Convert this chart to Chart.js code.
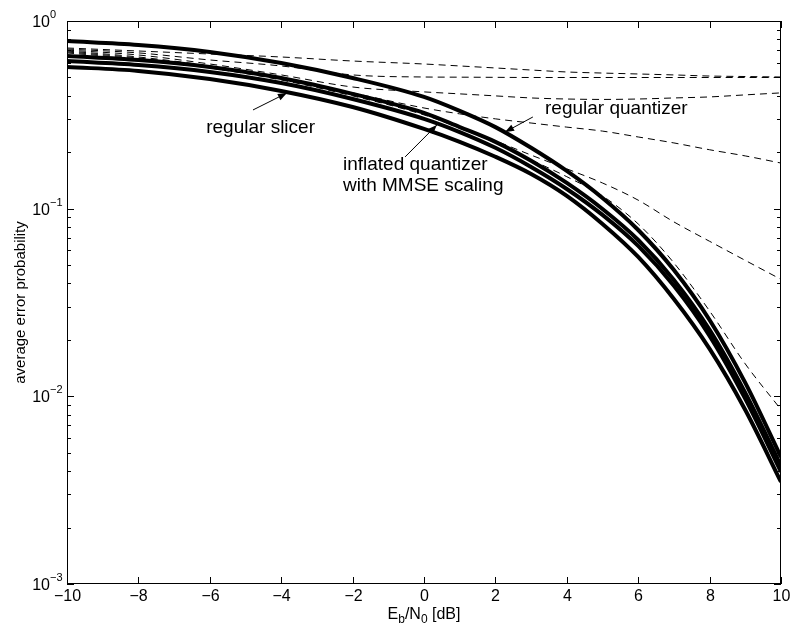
<!DOCTYPE html>
<html>
<head>
<meta charset="utf-8">
<script src="https://cdn.jsdelivr.net/npm/chart.js@4.4.1/dist/chart.umd.min.js"></script>
<style>
body{margin:0;background:#fff;}
canvas{display:block;}
</style>
</head>
<body>
<canvas id="myCanvas" width="794" height="631"></canvas>
<script>
// Eb/N0 in dB
var snrDb=[-10,-8,-6,-4,-2,0,1,2,3,4,5,6,7,8,9,10];

// thick solid curves
var regularQuantizer=[0.782,0.745,0.684,0.597,0.497,0.394,0.332,0.272,0.211,0.1588,0.1140,0.0770,0.0471,0.0255,0.01179,0.00475];
var inflatedQuantizer=[0.651,0.620,0.569,0.497,0.409,0.324,0.272,0.227,0.180,0.1371,0.0996,0.0681,0.0417,0.0226,0.01042,0.00426];
var inflatedMmse=[0.612,0.583,0.535,0.467,0.384,0.301,0.256,0.211,0.1668,0.1273,0.0926,0.0633,0.0388,0.0210,0.00969,0.00396];
var regularSlicer=[0.569,0.542,0.491,0.424,0.348,0.266,0.227,0.189,0.153,0.117,0.0829,0.0553,0.0330,0.0179,0.00846,0.0035];

// thin dashed curves
var dashA=[0.718,0.692,0.667,0.643,0.612,0.590,0.576,0.562,0.548,0.535,0.528,0.522,0.516,0.509,0.506,0.503];
var dashB=[0.709,0.676,0.620,0.576,0.516,0.503,0.502,0.501,0.500,0.500,0.500,0.500,0.500,0.500,0.500,0.500];
var dashC=[0.700,0.659,0.590,0.516,0.445,0.419,0.409,0.399,0.389,0.384,0.382,0.384,0.389,0.394,0.404,0.414];
var dashD=[0.692,0.643,0.576,0.497,0.414,0.344,0.320,0.301,0.286,0.272,0.259,0.241,0.224,0.206,0.191,0.175];
var dashE=[0.684,0.635,0.569,0.491,0.404,0.320,0.272,0.230,0.193,0.163,0.137,0.111,0.085,0.067,0.053,0.042];
var dashF=[0.676,0.627,0.562,0.485,0.399,0.316,0.269,0.224,0.182,0.148,0.1169,0.0829,0.0514,0.0285,0.01488,0.0085];

var xTicks=[-10,-8,-6,-4,-2,0,2,4,6,8,10];
var xTickLabels=['\u221210','\u22128','\u22126','\u22124','\u22122','0','2','4','6','8','10'];
var yTicks=[1,0.1,0.01,0.001];
var yTickExp=['0','\u22121','\u22122','\u22123'];
var yMinor=[0.002,0.003,0.004,0.005,0.006,0.007,0.008,0.009,0.02,0.03,0.04,0.05,0.06,0.07,0.08,0.09,0.2,0.3,0.4,0.5,0.6,0.7,0.8,0.9];

// text notes: [text lines, x, y] and arrows: [tailX, tailY, tipX, tipY] in data units
var notes=[
  [['regular slicer'],-6.1,0.253],
  [['regular quantizer'],3.39,0.3195],
  [['inflated quantizer','with MMSE scaling'],-2.27,0.161]
];
var arrows=[
  [-4.79,0.3357,-3.84,0.4134],
  [3.05,0.308,2.27,0.256],
  [-0.53,0.1887,0.36,0.279]
];

var FONT='"Liberation Sans", Arial, Helvetica, sans-serif';

function solid(d){
  return {data:d,borderColor:'#000',borderWidth:4,pointRadius:0,fill:false,cubicInterpolationMode:'monotone'};
}
function dashed(d){
  return {data:d,borderColor:'#000',borderWidth:1,borderDash:[7,5],pointRadius:0,fill:false,cubicInterpolationMode:'monotone'};
}

var frame={
  id:'frame',
  afterDraw:function(chart){
    var c=chart.ctx,a=chart.chartArea,xs=chart.scales.x,ys=chart.scales.y;
    c.save();
    c.strokeStyle='#000';c.fillStyle='#000';c.lineWidth=1;
    c.strokeRect(a.left+0.5,a.top+0.5,a.right-a.left-1,a.bottom-a.top-1);
    function seg(x1,y1,x2,y2){c.beginPath();c.moveTo(x1,y1);c.lineTo(x2,y2);c.stroke();}

    c.font='16px '+FONT;
    c.textAlign='center';c.textBaseline='alphabetic';
    for(var i=0;i<xTicks.length;i++){
      var px=Math.round(xs.getPixelForValue(xTicks[i]))+0.5;
      seg(px,a.bottom,px,a.bottom-7);
      seg(px,a.top,px,a.top+7);
      c.fillText(xTickLabels[i],px,a.bottom+17);
    }
    for(i=0;i<yTicks.length;i++){
      var py=Math.round(ys.getPixelForValue(yTicks[i]))+0.5;
      seg(a.left,py,a.left+7,py);
      seg(a.right,py,a.right-7,py);
      c.font='16px '+FONT;c.textAlign='right';
      c.fillText('10',a.left-17,py+5);
      c.font='11px '+FONT;c.textAlign='left';
      c.fillText(yTickExp[i],a.left-17,py-4);
    }
    for(i=0;i<yMinor.length;i++){
      var pm=Math.round(ys.getPixelForValue(yMinor[i]))+0.5;
      seg(a.left,pm,a.left+4,pm);
      seg(a.right,pm,a.right-4,pm);
    }

    // axis titles
    var cx=(a.left+a.right)/2;
    var parts=[['E',16,0],['b',12,4],['/N',16,0],['0',12,4],[' [dB]',16,0]];
    var w=0;
    parts.forEach(function(p){c.font=p[1]+'px '+FONT;w+=c.measureText(p[0]).width;});
    var tx=cx-w/2;c.textAlign='left';
    parts.forEach(function(p){c.font=p[1]+'px '+FONT;c.fillText(p[0],tx,a.bottom+35+p[2]);tx+=c.measureText(p[0]).width;});

    c.save();
    c.translate(20,(a.top+a.bottom)/2);
    c.rotate(-Math.PI/2);
    c.font='15px '+FONT;c.textAlign='center';
    c.fillText('average error probability',0,5);
    c.restore();

    // notes and arrows
    c.font='19px '+FONT;c.textAlign='left';
    notes.forEach(function(n){
      var nx=xs.getPixelForValue(n[1]),ny=ys.getPixelForValue(n[2]);
      n[0].forEach(function(t,k){c.fillText(t,nx,ny+k*21);});
    });
    arrows.forEach(function(r){
      var x1=xs.getPixelForValue(r[0]),y1=ys.getPixelForValue(r[1]);
      var x2=xs.getPixelForValue(r[2]),y2=ys.getPixelForValue(r[3]);
      seg(x1,y1,x2,y2);
      var ang=Math.atan2(y2-y1,x2-x1),L=9,H=3.5;
      c.beginPath();
      c.moveTo(x2,y2);
      c.lineTo(x2-L*Math.cos(ang)+H*Math.sin(ang),y2-L*Math.sin(ang)-H*Math.cos(ang));
      c.lineTo(x2-L*Math.cos(ang)-H*Math.sin(ang),y2-L*Math.sin(ang)+H*Math.cos(ang));
      c.closePath();c.fill();
    });
    c.restore();
  }
};

var ctx=document.getElementById('myCanvas');
var chart=new Chart(ctx,{
  type:'line',
  data:{
    labels:snrDb,
    datasets:[
      solid(regularQuantizer),solid(inflatedQuantizer),solid(inflatedMmse),solid(regularSlicer),
      dashed(dashA),dashed(dashB),dashed(dashC),dashed(dashD),dashed(dashE),dashed(dashF)
    ]
  },
  options:{
    responsive:false,
    animation:false,
    layout:{padding:{top:21,right:13,left:0,bottom:0}},
    plugins:{legend:{display:false},tooltip:{enabled:false}},
    scales:{
      x:{type:'linear',min:-10,max:10,grid:{display:false},border:{display:false},ticks:{display:false},
        afterFit:function(s){s.height=47;}},
      y:{type:'logarithmic',min:0.001,max:1,grid:{display:false},border:{display:false},ticks:{display:false},
        afterFit:function(s){s.width=67;}}
    }
  },
  plugins:[frame]
});
</script>
</body>
</html>
